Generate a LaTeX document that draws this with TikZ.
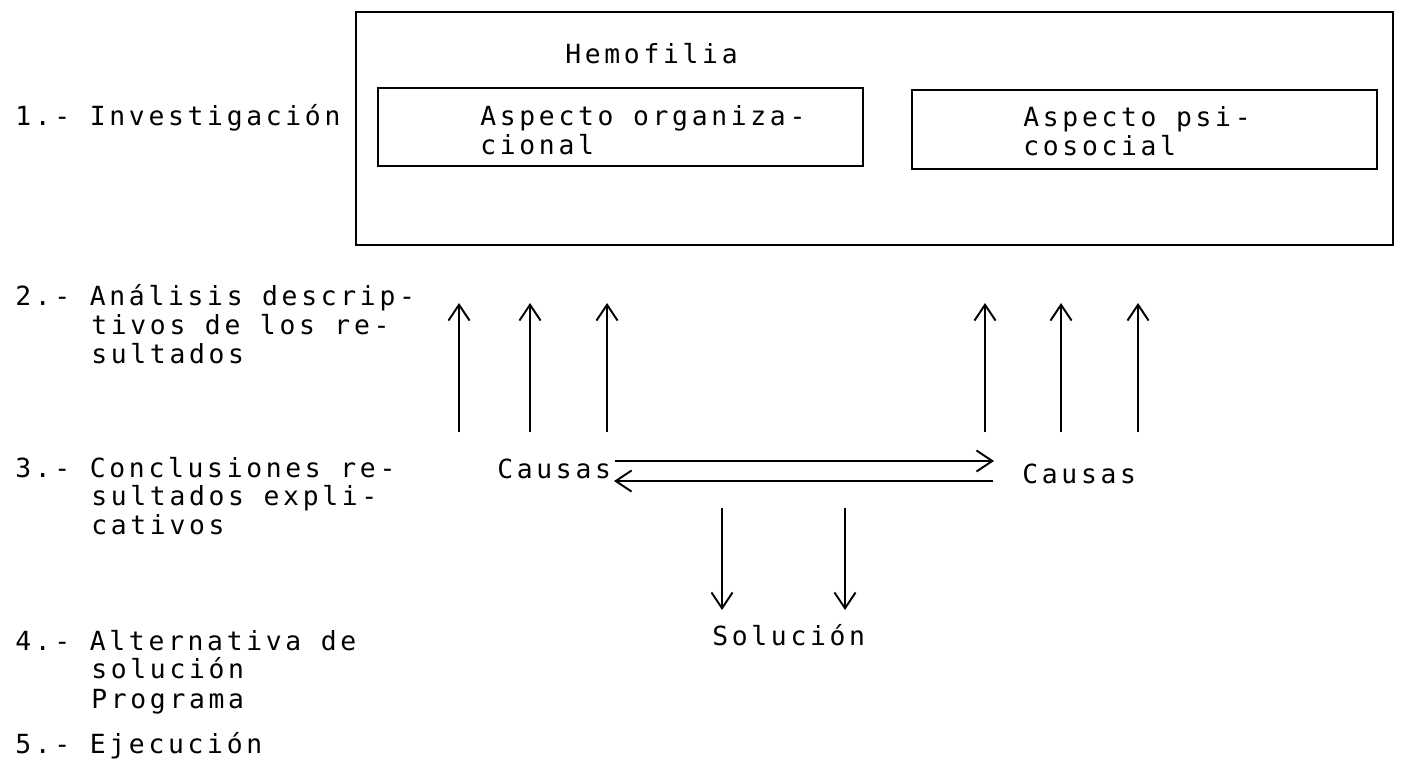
\documentclass[tikz,border=0pt]{standalone}
\usepackage{fontspec}
\setmonofont{DejaVu Sans Mono}[LetterSpace=14]
\usetikzlibrary{arrows.meta,fit}
\tikzset{
  txt/.style={font=\ttfamily\fontsize{15}{17}\selectfont, anchor=base west, inner sep=0pt},
  frame/.style={draw, line width=1.2pt, inner sep=0pt},
  arr/.style={line width=1.1pt, -{Straight Barb[length=9pt,width=12pt,line width=1.1pt]}},
}
\begin{document}
\begin{tikzpicture}[x=0.02cm,y=-0.02cm]
\useasboundingbox (0,0) rectangle (1403,761);
% boxes
\coordinate (o1) at (356,12); \coordinate (o2) at (1393,245);
\node[frame, fit=(o1)(o2)] (outer) {};
\coordinate (a1) at (378,88); \coordinate (a2) at (863,166);
\node[frame, fit=(a1)(a2)] (orgbox) {};
\coordinate (b1) at (912,90); \coordinate (b2) at (1377,169);
\node[frame, fit=(b1)(b2)] (psibox) {};
% box texts
\node[txt] (hemo) at (565,63) {Hemofilia};
\node[txt] (org1) at (480,125) {Aspecto organiza-};
\node[txt] (org2) at (480,154) {cional};
\node[txt] (psi1) at (1023,126) {Aspecto psi-};
\node[txt] (psi2) at (1023,155) {cosocial};
% left labels
\node[txt] (l1) at (15,125) {1.- Investigación};
\node[txt] (l2a) at (15,305) {2.- Análisis descrip-};
\node[txt] (l2b) at (91,334) {tivos de los re-};
\node[txt] (l2c) at (91,363) {sultados};
\node[txt] (l3a) at (15,477) {3.- Conclusiones re-};
\node[txt] (l3b) at (91,505) {sultados expli-};
\node[txt] (l3c) at (91,534) {cativos};
\node[txt] (l4a) at (15,650) {4.- Alternativa de};
\node[txt] (l4b) at (91,678) {solución};
\node[txt] (l4c) at (91,708) {Programa};
\node[txt] (l5) at (15,753) {5.- Ejecución};
% diagram texts
\node[txt] (causasL) at (497,478) {Causas};
\node[txt] (causasR) at (1022,483) {Causas};
\node[txt] (sol) at (712,645) {Solución};
% arrow endpoints
\foreach \i/\x in {1/459,2/530,3/607,4/985,5/1061,6/1138}{
  \coordinate (ub\i) at (\x,432);
  \coordinate (ut\i) at (\x,303);
}
\coordinate (h1s) at (615,461); \coordinate (h1e) at (994,461);
\coordinate (h2s) at (993,481); \coordinate (h2e) at (614,481);
\coordinate (d1s) at (722,508); \coordinate (d1e) at (722,610);
\coordinate (d2s) at (845,508); \coordinate (d2e) at (845,610);
% arrows
\foreach \i in {1,...,6}{ \draw[arr] (ub\i) -- (ut\i); }
\draw[arr] (h1s) -- (h1e);
\draw[arr] (h2s) -- (h2e);
\draw[arr] (d1s) -- (d1e);
\draw[arr] (d2s) -- (d2e);
\end{tikzpicture}
\end{document}
